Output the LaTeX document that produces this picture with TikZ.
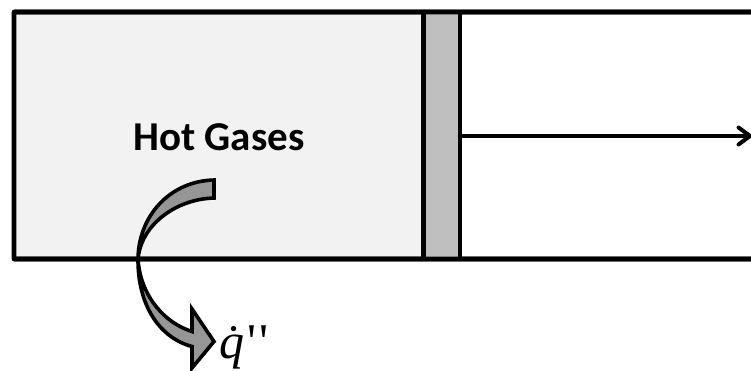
\documentclass[tikz,border=0pt]{standalone}
\usepackage{fontspec}
\setmainfont{Carlito}
\newfontfamily\qfont{Liberation Serif}
\definecolor{gasfill}{HTML}{F2F2F2}
\definecolor{pistonfill}{HTML}{BFBFBF}
\definecolor{flowfill}{HTML}{969696}
\tikzset{
  wall/.style={draw=black,line width=4.6bp,line cap=butt,line join=round},
  pistonbox/.style={draw=black,line width=4.4bp,fill=pistonfill,minimum width=36.5bp,minimum height=247bp,inner sep=0pt,outer sep=0pt},
  gasbox/.style={fill=gasfill,minimum width=409bp,minimum height=247bp,inner sep=0pt,outer sep=0pt},
  rod/.style={draw=black,line width=3.2bp},
  rodhead/.style={draw=black,line width=4bp,line cap=round,line join=miter},
  flow/.style={draw=black,line width=3.6bp,fill=flowfill,line join=miter}
}
\begin{document}
\begin{tikzpicture}[x=1bp,y=-1bp]
\useasboundingbox (0,0) rectangle (751,370);
\node[gasbox] (gas) at (218.5,135.5) {};
\coordinate (topright) at (751,12);
\coordinate (botright) at (751,259);
\coordinate (rodend) at (750,136);
\draw[wall] (botright) -- (gas.south west) -- (gas.north west) -- (topright);
\node[pistonbox] (piston) at (441.75,135.5) {};
\draw[wall] (gas.north west) -- (topright);
\draw[wall] (gas.south west) -- (botright);
\draw[rod] (piston.east |- rodend) -- (rodend);
\draw[rodhead] (738.5,127.5) -- (rodend) -- (738.5,144.5);
\node[font=\bfseries,inner sep=0pt] (hot) at (219,137) {\fontsize{41bp}{44bp}\selectfont Hot Gases};
\coordinate (flowtip) at (214,341.5);
\draw[flow] (214,180)
  .. controls (170,181) and (138,216) .. (138,260)
  .. controls (138,306) and (160,338) .. (192,346.5)
  -- (192,368) -- (flowtip) -- (192,309) -- (192,331.5)
  .. controls (165,323) and (141,297) .. (138,260)
  .. controls (140,226) and (175,199) .. (214,198)
  -- cycle;
\node[inner sep=0pt,anchor=base west] (qdot) at (219,358) {\fontsize{50bp}{52bp}\selectfont\qfont\itshape\.{q}\upshape\kern3bp\textquotesingle\kern3bp\textquotesingle};
\end{tikzpicture}
\end{document}
